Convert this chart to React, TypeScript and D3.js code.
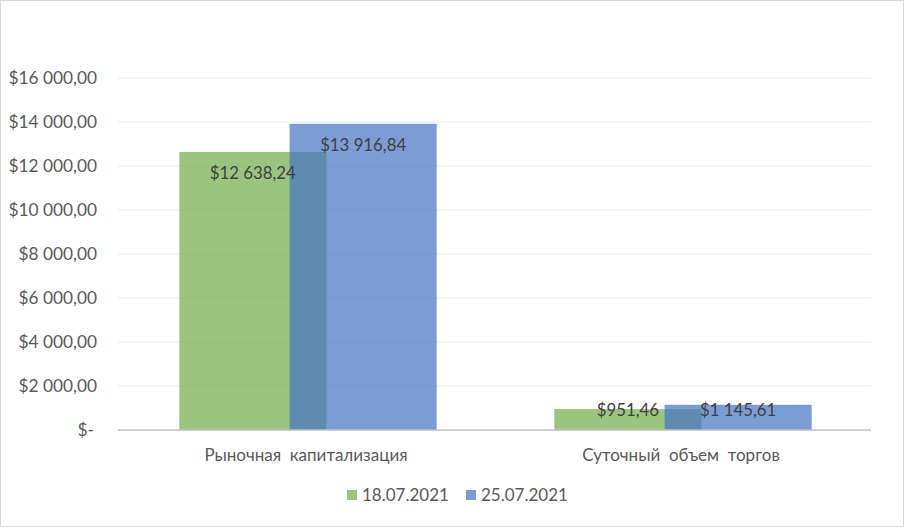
import React from "react";
import * as d3 from "d3";

const categories = ["Рыночная  капитализация", "Суточный  объем  торгов"];
const seriesNames = ["18.07.2021", "25.07.2021"];
const series1 = [12638.24, 951.46];
const series2 = [13916.84, 1145.61];
const seriesValues = [series1, series2];
const seriesColors = ["#70AD47", "#4472C4"];
const yTicks = [0, 2000, 4000, 6000, 8000, 10000, 12000, 14000, 16000];

const W = 904;
const H = 527;
const FONT = "Lato, 'Open Sans', sans-serif";

function fmt(v: number, withDec = true): string {
  if (v === 0) return "$-";
  const fixed = v.toFixed(2);
  const [intPart, dec] = fixed.split(".");
  const withSpaces = intPart.replace(/\B(?=(\d{3})+(?!\d))/g, " ");
  return "$" + withSpaces + (withDec ? "," + dec : "");
}

export default function App() {
  const left = 120.5;
  const right = 870.5;
  const gridLeft = 118;
  const gridRight = 871;
  const top = 78;
  const bottom = 430;

  const x = d3.scaleBand<string>().domain(categories).range([left, right]).padding(0);
  const y = d3.scaleLinear().domain([0, 16000]).range([bottom, top]);

  const gap = 0.8;
  const overlap = 0.25;
  const bw = x.bandwidth();
  const barW = bw / (2 - overlap + gap);

  const barX = (ci: number, si: number) => {
    const center = (x(categories[ci]) as number) + bw / 2;
    const groupStart = center - ((2 - overlap) * barW) / 2;
    return groupStart + si * (1 - overlap) * barW;
  };

  return (
    <div style={{ position: "absolute", left: 0, top: 0 }}>
      <svg width={W} height={H} style={{ display: "block", background: "#fff" }}>
        <rect x={0.5} y={0.5} width={W - 1} height={H - 1} fill="#fff" stroke="#D9D9D9" />
        {yTicks.map((t) => (
          <g key={t}>
            {t !== 0 && (
              <line x1={gridLeft} x2={gridRight} y1={y(t)} y2={y(t)} stroke="#EBEBEB" strokeWidth={1} />
            )}
            <text
              x={t === 0 ? 94 : 97}
              y={y(t)}
              dy="0.35em"
              textAnchor="end"
              fontFamily={FONT}
              fontSize={17.3}
              fill="#595959"
            >
              {fmt(t)}
            </text>
          </g>
        ))}
        {seriesValues.map((vals, si) =>
          vals.map((v, ci) => (
            <rect
              key={`${si}-${ci}`}
              x={barX(ci, si)}
              y={y(v)}
              width={barW}
              height={bottom - y(v)}
              fill={seriesColors[si]}
              fillOpacity={0.7}
            />
          ))
        )}
        <line x1={gridLeft} x2={gridRight} y1={bottom} y2={bottom} stroke="#BFBFBF" strokeWidth={1.5} />
        {seriesValues.map((vals, si) =>
          vals.map((v, ci) => (
            <text
              key={`l-${si}-${ci}`}
              x={barX(ci, si) + barW / 2}
              y={Math.min(y(v) + 21, bottom - 20)}
              dy="0.35em"
              textAnchor="middle"
              fontFamily={FONT}
              fontSize={16.8}
              fill="#404040"
            >
              {fmt(v)}
            </text>
          ))
        )}
        {categories.map((c) => (
          <text
            key={c}
            x={(x(c) as number) + bw / 2 - 2}
            y={455}
            dy="0.35em"
            textAnchor="middle"
            fontFamily={FONT}
            fontSize={17}
            fill="#595959"
            style={{ whiteSpace: "pre" }}
          >
            {c}
          </text>
        ))}
        {seriesNames.map((n, i) => {
          const lx = 347 + i * 119;
          return (
            <g key={n}>
              <rect x={lx} y={490} width={10} height={10} fill={seriesColors[i]} fillOpacity={0.7} />
              <text x={lx + 15} y={495} dy="0.35em" fontFamily={FONT} fontSize={17} fill="#595959">
                {n}
              </text>
            </g>
          );
        })}
      </svg>
    </div>
  );
}
